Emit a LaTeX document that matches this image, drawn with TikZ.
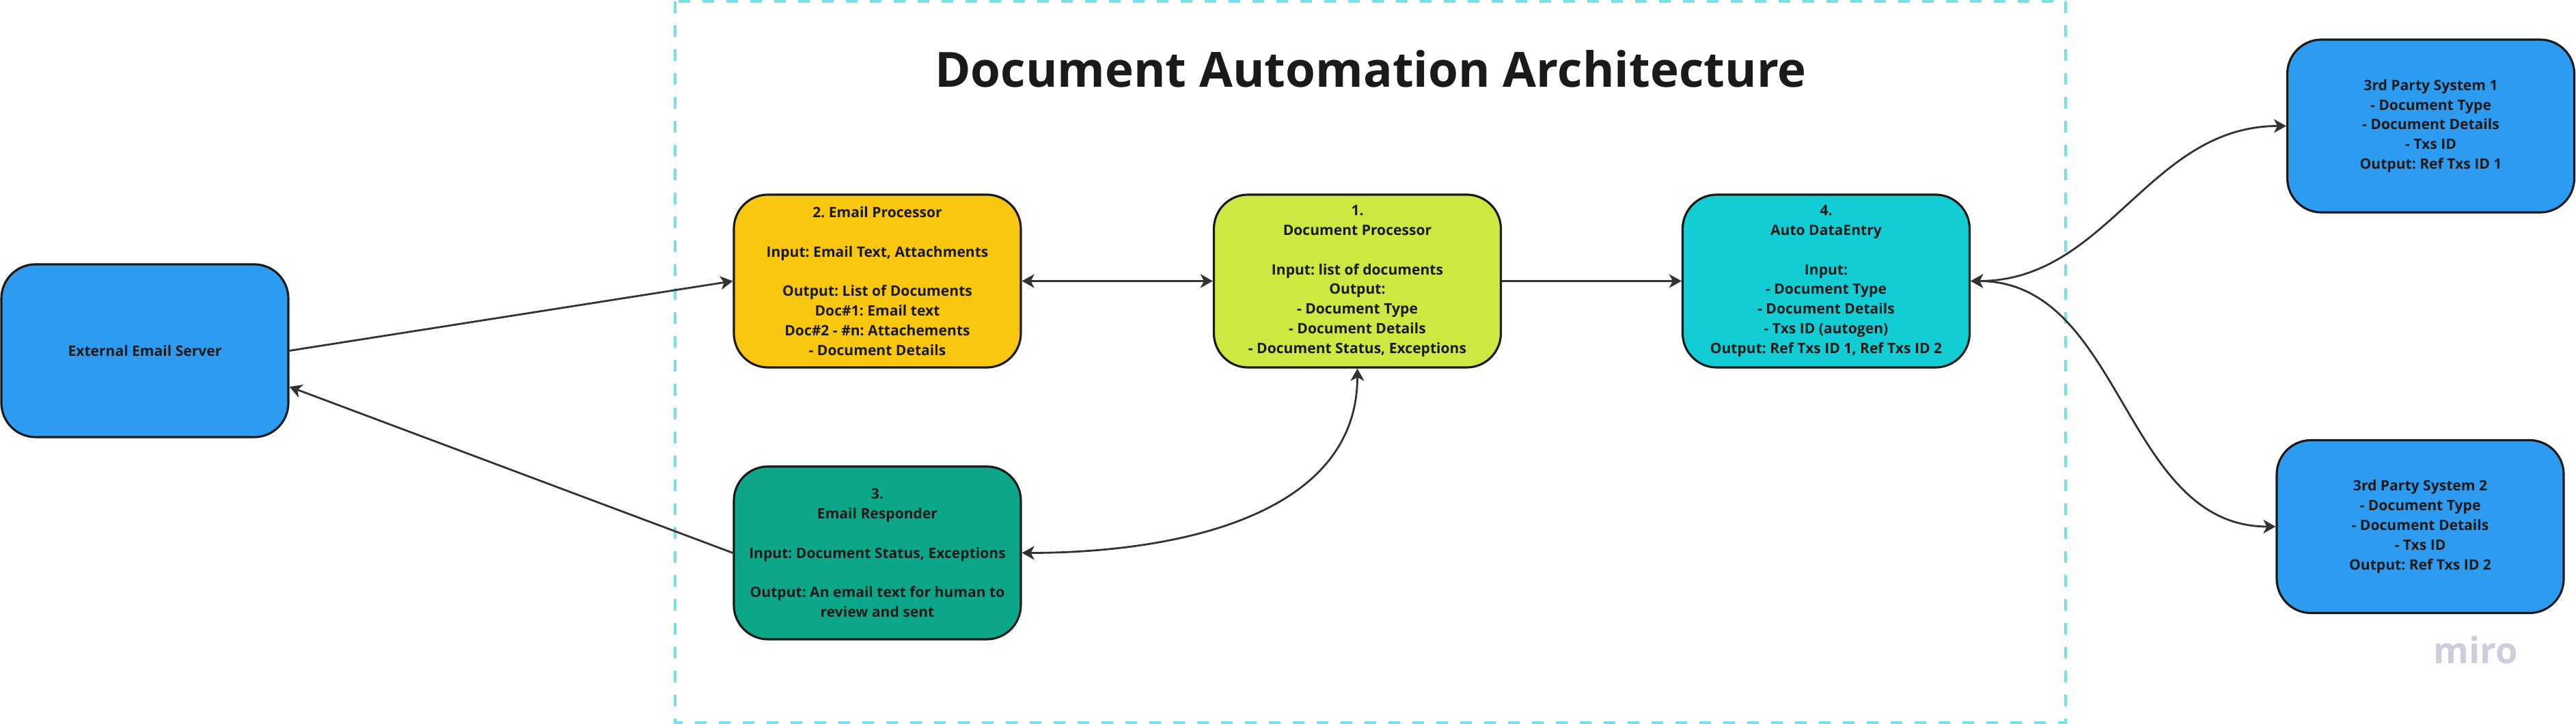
\documentclass[tikz,border=0pt]{standalone}
\usepackage{fontspec}
\setmainfont{Open Sans}
\usepackage{xcolor}
\usepackage{tikz}
\usetikzlibrary{
	arrows.meta,
	positioning
}
\definecolor{MiroYellow}{RGB}{250,199,16}
\definecolor{MiroLime}{RGB}{206,231,65}
\definecolor{MiroCyan}{RGB}{18,205,212}
\definecolor{MiroGreen}{RGB}{12,167,137}
\definecolor{MiroBlue}{RGB}{45,155,240}
\definecolor{FrameCyan}{RGB}{116,226,232}
\definecolor{InkDark}{RGB}{26,26,26}
\definecolor{WireGray}{RGB}{51,51,51}
\definecolor{LogoGray}{RGB}{206,205,220}
\frenchspacing

\begin{document}
\begin{tikzpicture}[
		box/.style={draw=InkDark, line width=0.9pt, rounded corners=0.5cm, minimum width=4.2cm, minimum height=2.53cm, inner sep=0pt, align=center, text=InkDark, font=\bfseries\fontsize{6}{8.2}\selectfont},
		wire/.style={draw=WireGray, line width=0.8pt},
		>={Stealth[length=0.18cm, width=0.2cm, inset=0.05cm]}
	]
		\useasboundingbox (0,0) rectangle (37.7,10.6);
		\draw[FrameCyan, line width=1.1pt, dash pattern=on 0.17cm off 0.18cm] (9.88,10.58) rectangle (30.23,0.02);
		\node[anchor=base, text=InkDark, font=\bfseries\fontsize{20.2}{24}\selectfont] (title) at (20.06,9.32) {Document Automation Architecture};
		\node[box, fill=MiroBlue] (ext) at (2.12,5.465) {External Email Server};
		\node[box, fill=MiroYellow] (emailproc) at (12.84,6.485) {2. Email Processor\\[8.2pt] Input: Email Text, Attachments\\[8.2pt] Output: List of Documents\\ Doc\#1: Email text\\ Doc\#2 - \#n: Attachements\\ - Document Details};
		\node[box, fill=MiroLime] (docproc) at (19.865,6.485) {1.\\ Document Processor\\[8.2pt] Input: list of documents\\ Output:\\ - Document Type\\ - Document Details\\ - Document Status, Exceptions};
		\node[box, fill=MiroCyan] (autode) at (26.725,6.485) {4.\\ Auto DataEntry\\[8.2pt] Input:\\ - Document Type\\ - Document Details\\ - Txs ID (autogen)\\ Output: Ref Txs ID 1, Ref Txs ID 2};
		\node[box, fill=MiroGreen] (responder) at (12.84,2.505) {3.\\ Email Responder\\[8.2pt] Input: Document Status, Exceptions\\[8.2pt] Output: An email text for human to\\ review and sent};
		\node[box, fill=MiroBlue] (third1) at (35.575,8.755) {3rd Party System 1\\ - Document Type\\ - Document Details\\ - Txs ID\\ Output: Ref Txs ID 1};
		\node[box, fill=MiroBlue] (third2) at (35.42,2.89) {3rd Party System 2\\ - Document Type\\ - Document Details\\ - Txs ID\\ Output: Ref Txs ID 2};
		\node[anchor=base, text=LogoGray, font=\bfseries\fontsize{15}{18}\selectfont] (logo) at (36.23,0.88) {miro};
		\draw[wire, ->] (ext.east) -- (emailproc.west);
		\draw[wire, ->] (responder.west) -- (ext.-14);
		\draw[wire, <->] (emailproc.east) -- (docproc.west);
		\draw[wire, ->] (docproc.east) -- (autode.west);
		\draw[wire, <->] (docproc.south) to[out=-90, in=0] (responder.east);
		\draw[wire, <->] (autode.east) to[out=0, in=180] (third1.west);
		\draw[wire, <->] (autode.east) to[out=0, in=180] (third2.west);
	\end{tikzpicture}
\end{document}
